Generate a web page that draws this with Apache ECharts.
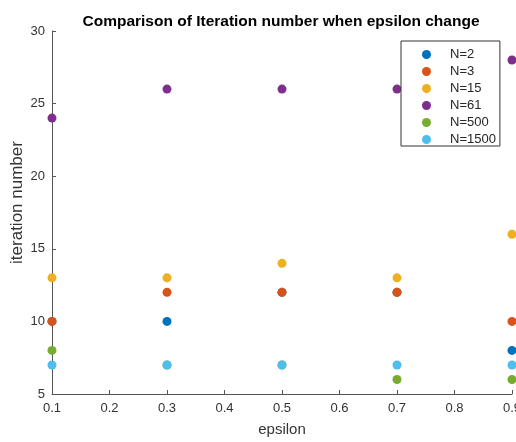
<!DOCTYPE html>
<html><head><meta charset="utf-8">
<script src="https://cdn.jsdelivr.net/npm/echarts@6/dist/echarts.min.js"></script>
<style>html,body{margin:0;padding:0;background:#fff}#c{width:516px;height:442px}</style>
</head><body><div id="c"></div>
<script>
const epsilon = [0.1, 0.3, 0.5, 0.7, 0.9];
const seriesNames = ['N=2', 'N=3', 'N=15', 'N=61', 'N=500', 'N=1500'];
const n2 = [10, 10, 12, 12, 8];
const n3 = [10, 12, 12, 12, 10];
const n15 = [13, 13, 14, 13, 16];
const n61 = [24, 26, 26, 26, 28];
const n500 = [8, 7, 7, 6, 6];
const n1500 = [7, 7, 7, 7, 7];
const allValues = [n2, n3, n15, n61, n500, n1500];
const colors = ['#0072BD', '#D95319', '#EDB120', '#7E2F8E', '#77AC30', '#4DBEEE'];

const font = 'Liberation Sans, Arial, sans-serif';
const chart = echarts.init(document.getElementById('c'), null, {renderer: 'canvas'});
chart.setOption({
  animation: false,
  backgroundColor: '#fff',
  title: {
    text: 'Comparison of Iteration number when epsilon change',
    left: 276, top: 9, textAlign: 'center',
    textStyle: {fontFamily: font, fontSize: 15.5, fontWeight: 'bold', color: '#000'}
  },
  grid: {left: 52, right: 4, top: 31, bottom: 48, containLabel: false, outerBoundsMode: 'none'},
  legend: {
    orient: 'vertical', left: 401, top: 41,
    padding: [7, 4, 0, 21],
    itemGap: 4,
    itemWidth: 9, itemHeight: 9,
    icon: 'circle',
    borderColor: '#333', borderWidth: 1, backgroundColor: '#fff',
    data: seriesNames,
    textStyle: {fontFamily: font, fontSize: 13, color: '#262626', lineHeight: 11, padding: [0, 0, 0, 14]}
  },
  xAxis: {
    type: 'value', min: 0.1, max: 0.9, interval: 0.1,
    name: 'epsilon', nameLocation: 'middle', nameGap: 28, nameMoveOverlap: false,
    nameTextStyle: {fontFamily: font, fontSize: 15, color: '#333'},
    axisLine: {lineStyle: {color: '#555', width: 1}},
    axisTick: {inside: true, length: 4, lineStyle: {color: '#555'}},
    axisLabel: {fontFamily: font, fontSize: 13, color: '#333', margin: 8,
      formatter: v => v.toFixed(1)},
    splitLine: {show: false}
  },
  yAxis: {
    type: 'value', min: 5, max: 30, interval: 5,
    name: 'iteration number', nameLocation: 'middle', nameGap: 26, nameMoveOverlap: false,
    nameTextStyle: {fontFamily: font, fontSize: 17, color: '#333', padding: [0, 0, 0, 20]},
    axisLine: {show: true, lineStyle: {color: '#555', width: 1}},
    axisTick: {show: true, inside: true, length: 4, lineStyle: {color: '#555'}},
    axisLabel: {fontFamily: font, fontSize: 13, color: '#333', margin: 7},
    splitLine: {show: false}
  },
  series: seriesNames.map((name, i) => ({
    name: name,
    type: 'scatter',
    symbol: 'circle',
    symbolSize: 9,
    clip: false,
    itemStyle: {color: colors[i], opacity: 1},
    data: epsilon.map((x, j) => [x, allValues[i][j]])
  }))
});
</script></body></html>
